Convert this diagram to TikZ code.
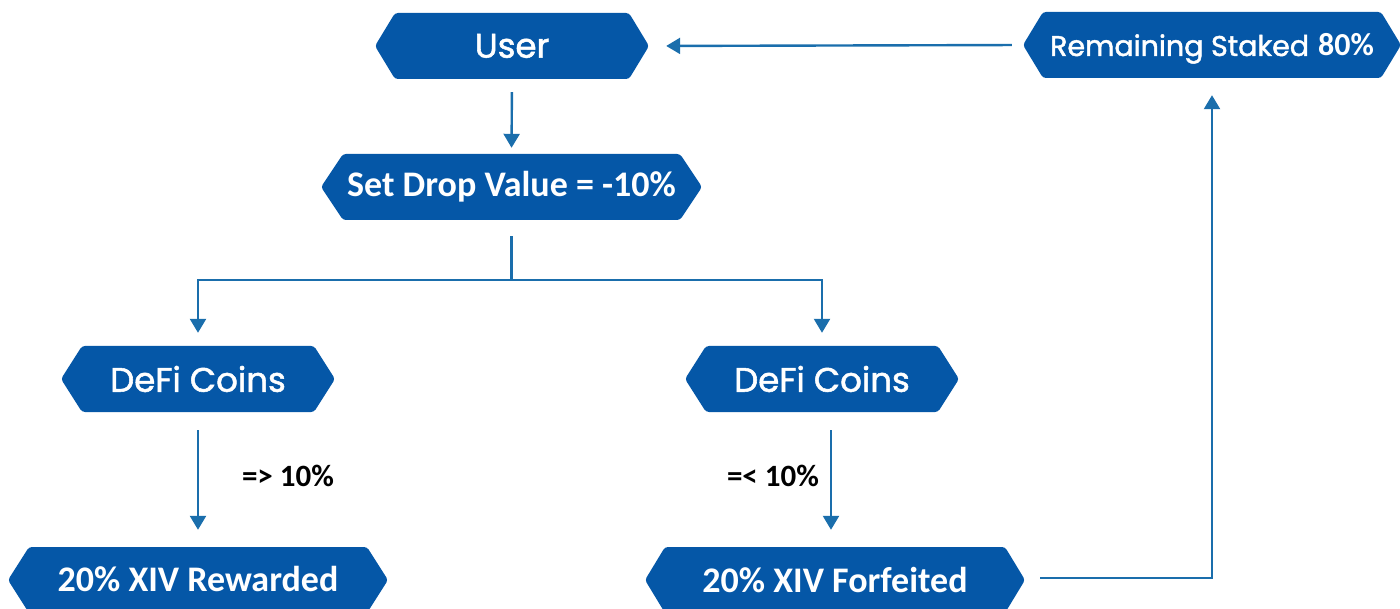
\documentclass[tikz,border=0pt]{standalone}
\usepackage{fontspec}
\setmainfont{Carlito}
\newfontfamily\popfont{Poppins}[FakeBold=1.6]
\usetikzlibrary{calc,arrows.meta}
\definecolor{boxblue}{HTML}{0557A7}
\definecolor{linkblue}{HTML}{1A6EAC}
\tikzset{
  hexfill/.style={fill=boxblue, rounded corners=3pt},
  hexlabel/.style={text=white, inner sep=0pt, minimum height=66pt},
  popbox/.style={font=\popfont\fontsize{34}{40}\selectfont},
  calbox/.style={font=\bfseries\fontsize{36}{42}\selectfont},
  conn/.style={draw=linkblue, line width=2.4pt},
  arrow/.style={conn, -{Triangle[width=16pt,length=14pt]}},
  cond/.style={font=\bfseries\fontsize{31}{36}\selectfont, text=black, inner sep=0pt}
}
% name, cx, cy, half width, tip, style, text
\newcommand{\hexnode}[7]{%
  \fill[hexfill] (#2-#4,#3) -- (#2-#4+#5,#3-33) -- (#2+#4-#5,#3-33) -- (#2+#4,#3)
    -- (#2+#4-#5,#3+33) -- (#2-#4+#5,#3+33) -- cycle;
  \node[hexlabel, #6, minimum width=2*#4] (#1) at (#2,#3) {#7};}
\begin{document}
\begin{tikzpicture}[x=1pt, y=-1pt]
\useasboundingbox (0,0) rectangle (1400,609);
\hexnode{user}{512}{46}{137}{20}{popbox}{User}
\hexnode{setdrop}{511.5}{187}{190.5}{22}{calbox}{Set Drop Value = -10\%}
\hexnode{rem}{1212}{45}{189}{20}{popbox}{\raisebox{-11pt}[0pt][0pt]{{\fontsize{28.5}{32}\selectfont Remaining Staked} {\normalfont\bfseries\fontsize{32}{36}\selectfont 80\%}}}
\hexnode{defiL}{198}{379}{137}{21}{popbox}{DeFi Coins}
\hexnode{defiR}{822}{379}{137}{21}{popbox}{DeFi Coins}
\hexnode{rew}{198}{580}{190}{21}{calbox}{\raisebox{2pt}{20\% XIV Rewarded}}
\hexnode{forf}{835}{580}{190}{20}{calbox}{20\% XIV Forfeited}
\coordinate (br) at (511.5,280);
\node[cond] (c1) at (288,476) {=> 10\%};
\node[cond] (c2) at (773,476) {=< 10\%};
\draw[arrow, shorten <=13pt, shorten >=6pt] (user.south) -- (setdrop.north);
\draw[arrow, shorten <=11pt, shorten >=17pt] (rem.west) -- (user.east);
\draw[conn] ($(setdrop.south)+(0,16)$) -- (br);
\draw[arrow, shorten >=13pt] (br) -| (defiL.north);
\draw[arrow, shorten >=13pt] (br) -| (defiR.north);
\draw[arrow, shorten <=18pt, shorten >=17pt] (defiL.south) -- (rew.north);
\draw[arrow] ($(defiR.south)+(9,18)$) -- ($(forf.north)+(-4,-17)$);
\draw[arrow, shorten >=17pt] ($(forf.east)+(15,-2)$) -| (rem.south);
\end{tikzpicture}
\end{document}
